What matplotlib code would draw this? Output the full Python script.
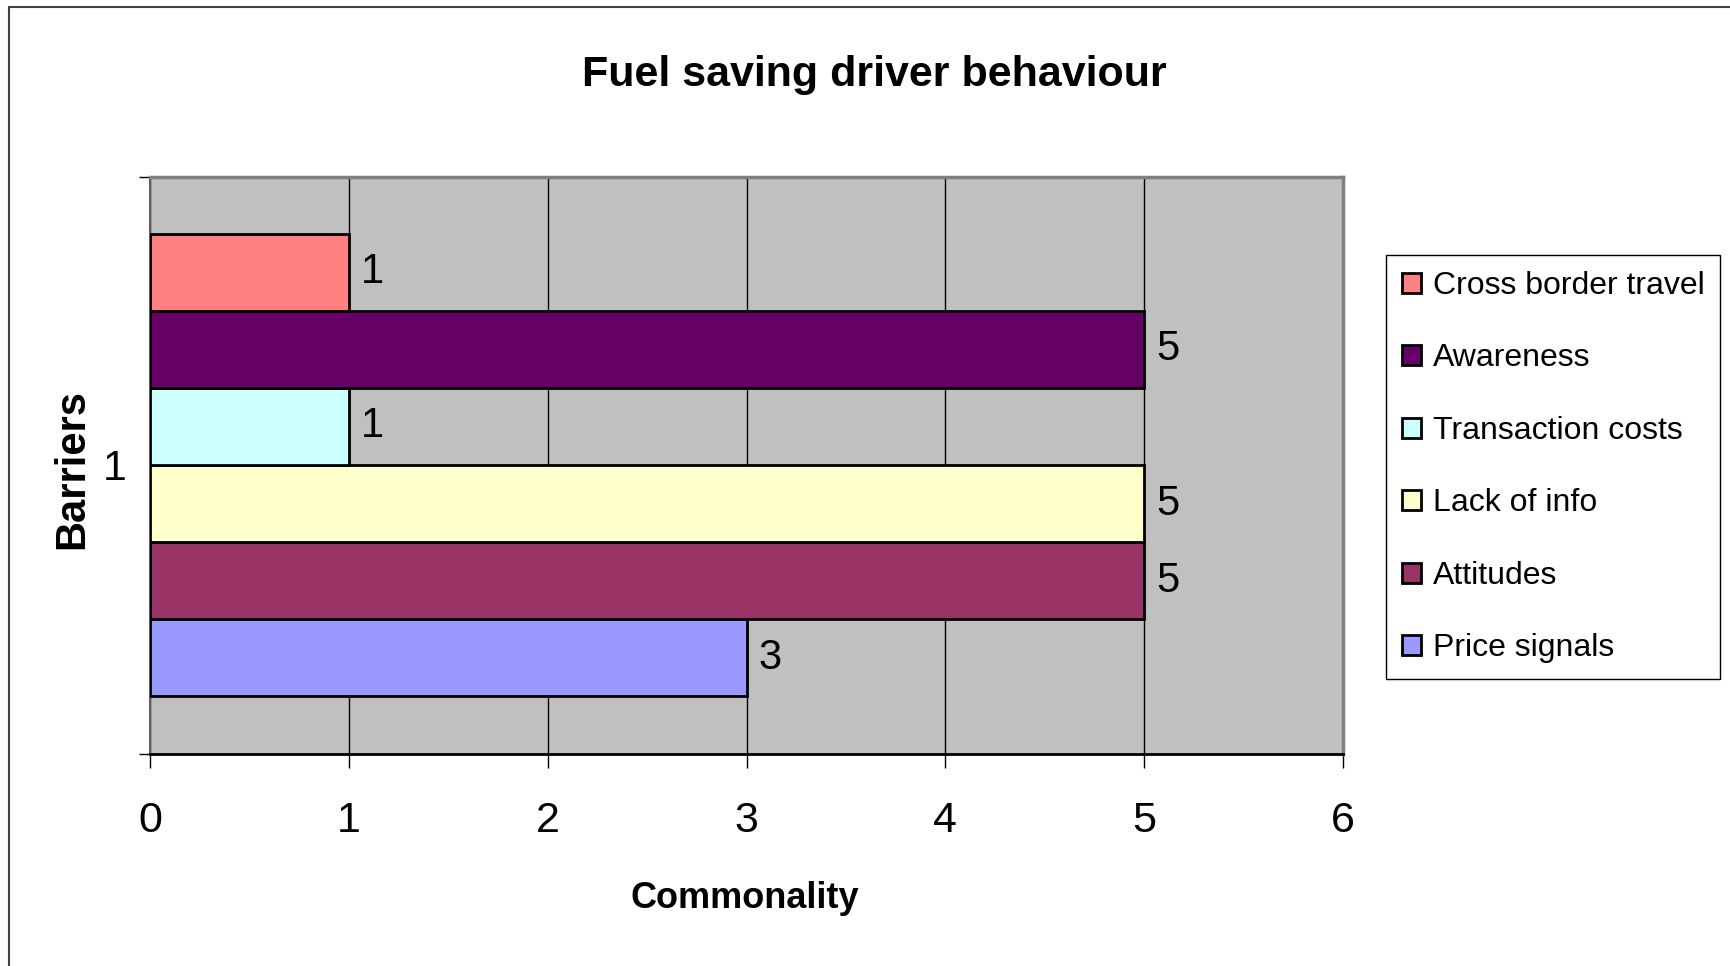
import matplotlib
matplotlib.use("Agg")
import matplotlib.pyplot as plt
from matplotlib.patches import Rectangle

plt.rcParams['font.family'] = ['Liberation Sans', 'DejaVu Sans']

# data (bottom to top, as drawn)
series = ["Price signals", "Attitudes", "Lack of info", "Transaction costs",
          "Awareness", "Cross border travel"]
values = [3, 5, 5, 1, 5, 1]
colors = ["#9999FF", "#993366", "#FFFFCC", "#CCFFFF", "#660066", "#FF8080"]
category = 1
x_ticks = [0, 1, 2, 3, 4, 5, 6]

W, H = 1730, 966
fig = plt.figure(figsize=(W / 100, H / 100), dpi=100)
fig.patch.set_facecolor("white")

# outer frame of the chart object
fig.patches.append(Rectangle((9 / W, -0.1), 1.2, 1 - 7 / H + 0.1, transform=fig.transFigure,
                             fill=False, edgecolor="#404040", linewidth=1.5))

ax = fig.add_axes([150 / W, 1 - 753.5 / H, (1343 - 150) / W, (753.5 - 176.5) / H])
ax.set_facecolor("#C0C0C0")

h = 0.1335
n = len(series)
handles = []
for i, (name, v, c) in enumerate(zip(series, values, colors)):
    y = category + (i - (n - 1) / 2) * h
    b = ax.barh(y, v, height=h, color=c, edgecolor="black", linewidth=2, label=name, zorder=3)
    handles.append(b)
    ax.text(v + 0.06, y, str(v), va="center", ha="left", fontsize=30, zorder=4)

ax.set_xlim(0, 6)
ax.set_ylim(category - 0.5, category + 0.5)
ax.set_xticks(x_ticks)
ax.set_xticklabels([str(t) for t in x_ticks], fontsize=31)
ax.tick_params(axis="x", length=10, width=1, pad=24, direction="out")
ax.set_yticks([category - 0.5, category + 0.5])
ax.set_yticklabels([])
ax.tick_params(axis="y", length=8, width=1)
ax.set_yticks([category], minor=True)
ax.set_yticklabels([str(category)], minor=True, fontsize=31)
ax.tick_params(axis="y", which="minor", length=0, pad=17)

ax.grid(axis="x", color="black", linewidth=1, zorder=1)
ax.set_axisbelow(True)
for s in ["top", "right"]:
    ax.spines[s].set_color("#808080")
    ax.spines[s].set_linewidth(2.5)
ax.spines["left"].set_color("#606060")
ax.spines["left"].set_linewidth(1.5)
ax.spines["bottom"].set_color("black")
ax.spines["bottom"].set_linewidth(2)

fig.text(874 / W, 1 - 75 / H, "Fuel saving driver behaviour", ha="center", va="center",
         fontsize=31, fontweight="bold")
fig.text(745 / W, 1 - 898 / H, "Commonality", ha="center", va="center",
         fontsize=26, fontweight="bold")
fig.text(72 / W, 1 - 469 / H, "Barriers", ha="center", va="center", rotation=90,
         fontsize=30, fontweight="bold")

leg = fig.legend(handles[::-1], series[::-1], loc="upper left",
                 bbox_to_anchor=(1386 / W, 1 - 255 / H), fontsize=23,
                 frameon=True, fancybox=False, edgecolor="black", framealpha=1,
                 handlelength=0.6, handleheight=0.6, handletextpad=0.36,
                 labelspacing=1.33, borderpad=0.5, borderaxespad=0)
leg.get_frame().set_linewidth(1)

fig.savefig("out.png", dpi=100)
